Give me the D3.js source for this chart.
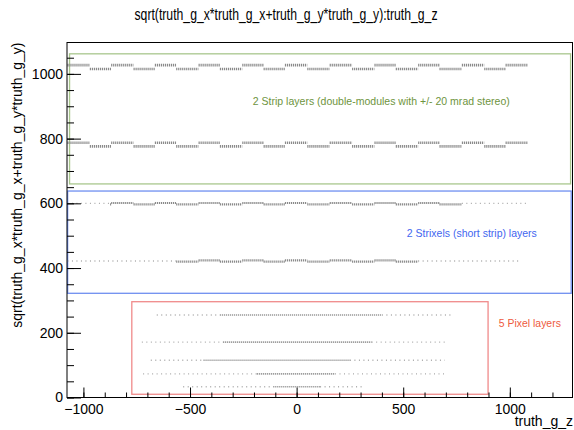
<!DOCTYPE html>
<html>
<head>
<meta charset="utf-8">
<script src="https://cdn.jsdelivr.net/npm/d3@7"></script>
<style>
  body { margin: 0; background: #fff; }
  svg text { font-family: "Liberation Sans", Arial, sans-serif; }
</style>
</head>
<body>
<div id="chart"></div>
<script>
// module boundaries along z (strip / strixel barrel modules alternate high/low)
const moduleEdges = [-1075, -970, -870, -765, -665, -565, -460, -360, -255, -155, -55,
                     50, 155, 260, 365, 465, 570, 670, 775, 880, 980, 1085];

// layers with staggered modules: radius of the high and low modules, z-range with dense hits
const staggeredLayers = [
  { name: "strip outer",    rHigh: 1027, rLow: 1015, zFrom: -1075, zTo: 1085 },
  { name: "strip inner",    rHigh: 787,  rLow: 776,  zFrom: -1075, zTo: 1085 },
  { name: "strixel outer",  rHigh: 601,  rLow: 597,  zFrom: -875,  zTo: 775 },
  { name: "strixel inner",  rHigh: 424,  rLow: 420,  zFrom: -565,  zTo: 570 }
];

// sparse hit regions: [zFrom, zTo, r]
const sparseHits = [
  [-1075, -875, 600], [775, 1085, 600],
  [-1075, -565, 422], [570, 1055, 422],
  [-656, -360, 255], [400, 727, 255],
  [-726, -345, 171], [352, 703, 171],
  [-684, -437, 115], [250, 695, 115],
  [-720, -187, 73], [180, 695, 73],
  [-532, -110, 33], [110, 305, 33]
];

// pixel layers: [zFrom, zTo, r] of the dense part
const pixelLayers = [
  [-360, 400, 255],
  [-345, 352, 171],
  [-437, 250, 115],
  [-187, 180, 73],
  [-110, 110, 33]
];

const xTicks = [-1000, -500, 0, 500, 1000];
const yTicks = [0, 200, 400, 600, 800, 1000];

const width = 574, height = 430;
const margin = { top: 42.5, right: 1.5, bottom: 33, left: 67 };

const svg = d3.select("#chart").append("svg")
  .attr("width", width).attr("height", height);

const x = d3.scaleLinear().domain([-1077, 1294]).range([margin.left, width - margin.right]);
const y = d3.scaleLinear().domain([0, 1097]).range([height - margin.bottom + 0.5, margin.top]);

const plot = svg.append("g");

// boxes and labels (annotations, in data units)
const boxes = [
  { z0: -1065, z1: 1285, r0: 660, r1: 1062, stroke: "#a9c78e", fill: "#6e9440",
    text: "2 Strip layers (double-modules with +/- 20 mrad stereo)", tz: 397, tr: 905, len: 257 },
  { z0: -1074, z1: 1288, r0: 322, r1: 638, stroke: "#6f8ff0", fill: "#3f66ef",
    text: "2 Strixels (short strip) layers", tz: 822, tr: 495, len: 130 },
  { z0: -773, z1: 898, r0: 10, r1: 296, stroke: "#f08a8a", fill: "#ee5a40",
    text: "5 Pixel layers", tz: 1094, tr: 217, len: 62 }
];

plot.selectAll("rect.box")
  .data(boxes)
  .join("rect")
    .attr("class", "box")
    .attr("x", d => x(d.z0))
    .attr("y", d => y(d.r1))
    .attr("width", d => x(d.z1) - x(d.z0))
    .attr("height", d => y(d.r0) - y(d.r1))
    .attr("fill", "none")
    .attr("stroke", d => d.stroke)
    .attr("stroke-width", 1.3);

plot.selectAll("text.note")
  .data(boxes)
  .join("text")
    .attr("class", "note")
    .attr("x", d => x(d.tz))
    .attr("y", d => y(d.tr))
    .attr("text-anchor", "middle")
    .attr("fill", d => d.fill)
    .attr("textLength", d => d.len)
    .attr("lengthAdjust", "spacingAndGlyphs")
    .style("font-size", "11px")
    .text(d => d.text);

// staggered module segments
const segs = [];
staggeredLayers.forEach(l => {
  for (let i = 0; i < moduleEdges.length - 1; i++) {
    const a = Math.max(moduleEdges[i], l.zFrom), b = Math.min(moduleEdges[i + 1], l.zTo);
    if (b > a) segs.push({ a, b, r: i % 2 === 0 ? l.rHigh : l.rLow, big: l.name.startsWith("strip") });
  }
});

plot.selectAll("line.seg")
  .data(segs)
  .join("line")
    .attr("class", "seg")
    .attr("x1", d => x(d.a)).attr("x2", d => x(d.b))
    .attr("y1", d => y(d.r)).attr("y2", d => y(d.r))
    .attr("stroke", "#8a8a8a")
    .attr("stroke-width", d => d.big ? 2.6 : 2.2)
    .attr("stroke-dasharray", "1.2,0.8");

plot.selectAll("line.pix")
  .data(pixelLayers)
  .join("line")
    .attr("class", "pix")
    .attr("x1", d => x(d[0])).attr("x2", d => x(d[1]))
    .attr("y1", d => y(d[2])).attr("y2", d => y(d[2]))
    .attr("stroke", "#999")
    .attr("stroke-width", 1.6)
    .attr("stroke-dasharray", "1.2,0.8");

plot.selectAll("line.sparse")
  .data(sparseHits)
  .join("line")
    .attr("class", "sparse")
    .attr("x1", d => x(d[0])).attr("x2", d => x(d[1]))
    .attr("y1", d => y(d[2])).attr("y2", d => y(d[2]))
    .attr("stroke", "#aaa")
    .attr("stroke-width", 1.4)
    .attr("stroke-dasharray", "1,3.5");

// frame
svg.append("rect")
  .attr("x", margin.left).attr("y", margin.top)
  .attr("width", width - margin.right - margin.left)
  .attr("height", y(0) - margin.top)
  .attr("fill", "none").attr("stroke", "#000").attr("stroke-width", 1);

// axes
const axisStyle = g => {
  g.select(".domain").remove();
  g.selectAll("text").style("font-size", "14px").attr("fill", "#000");
  g.selectAll("line").attr("stroke", "#000");
};

svg.append("g")
  .attr("transform", `translate(0, ${y(0)})`)
  .call(d3.axisBottom(x).tickValues(d3.range(-1000, 1294, 100)).tickSize(-5).tickFormat(""))
  .call(axisStyle);
svg.append("g")
  .attr("transform", `translate(0, ${y(0)})`)
  .call(d3.axisBottom(x).tickValues(xTicks).tickSize(-10).tickPadding(4)
    .tickFormat(d => d < 0 ? "\u2212" + Math.abs(d) : d))
  .call(axisStyle)
  .call(g => g.selectAll("text").attr("y", 7));

svg.append("g")
  .attr("transform", `translate(${margin.left}, 0)`)
  .call(d3.axisLeft(y).tickValues(d3.range(0, 1097, 50)).tickSize(-7).tickFormat(""))
  .call(axisStyle);
svg.append("g")
  .attr("transform", `translate(${margin.left}, 0)`)
  .call(d3.axisLeft(y).tickValues(yTicks).tickSize(-14).tickPadding(4).tickFormat(d3.format("d")))
  .call(axisStyle);

// titles
svg.append("text")
  .attr("x", 286).attr("y", 20)
  .attr("text-anchor", "middle")
  .attr("textLength", 303)
  .attr("lengthAdjust", "spacingAndGlyphs")
  .style("font-size", "16px")
  .text("sqrt(truth_g_x*truth_g_x+truth_g_y*truth_g_y):truth_g_z");

svg.append("text")
  .attr("x", width - 1).attr("y", 426)
  .attr("text-anchor", "end")
  .style("font-size", "14px")
  .text("truth_g_z");

svg.append("text")
  .attr("transform", "rotate(-90)")
  .attr("x", -margin.top).attr("y", 22)
  .attr("text-anchor", "end")
  .style("font-size", "14px")
  .text("sqrt(truth_g_x*truth_g_x+truth_g_y*truth_g_y)");
</script>
</body>
</html>
